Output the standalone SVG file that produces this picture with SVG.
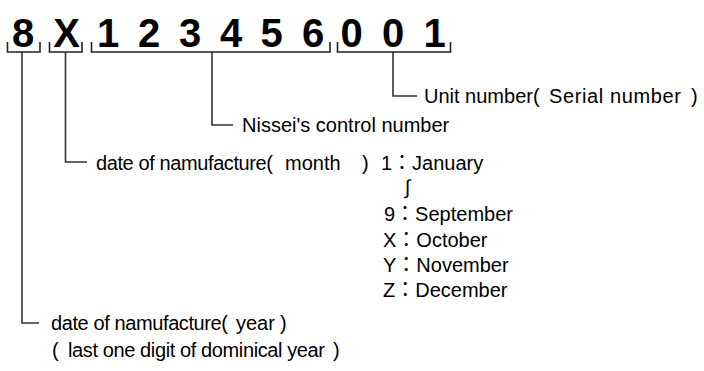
<svg xmlns="http://www.w3.org/2000/svg" width="704" height="371" viewBox="0 0 704 371">
<style>
.big{font-family:"Liberation Sans",Arial,sans-serif;font-weight:bold;font-size:40px;fill:#000;text-anchor:middle}
.lbl{font-family:"Liberation Sans",Arial,"Noto Sans CJK JP",sans-serif;font-size:20px;fill:#000}
.br{fill:none;stroke:#222;stroke-width:1.6}
.ln{fill:none;stroke:#333;stroke-width:1.6}
</style>
<rect width="704" height="371" fill="#fff"/>
<g id="code-year">
<text class="big" x="23" y="47">8</text>
<path class="br" d="M7.5,42 V52 H40 V42"/>
</g>
<g id="code-month">
<text class="big" x="66.5" y="47">X</text>
<path class="br" d="M49.5,42 V52 H82 V42"/>
</g>
<g id="code-control">
<text class="big" x="108" y="47">1</text>
<text class="big" x="149" y="47">2</text>
<text class="big" x="190" y="47">3</text>
<text class="big" x="231" y="47">4</text>
<text class="big" x="271.5" y="47">5</text>
<text class="big" x="313" y="47">6</text>
<path class="br" d="M91.5,42 V52 H330 V42"/>
</g>
<g id="code-serial">
<text class="big" x="351.5" y="47">0</text>
<text class="big" x="393" y="47">0</text>
<text class="big" x="434.5" y="47">1</text>
<path class="br" d="M337.5,42 V52 H450.5 V42"/>
</g>
<g id="connectors">
<path class="ln" d="M22,52 V323 H39"/>
<path class="ln" d="M65.5,52 V162 H87"/>
<path class="ln" d="M212,52 V125 H233"/>
<path class="ln" d="M393,52 V96 H417"/>
</g>
<g id="label-serial">
<text class="lbl" x="424" y="103">Unit number(<tspan x="549" textLength="132">Serial number</tspan><tspan x="691">)</tspan></text>
</g>
<g id="label-control">
<text class="lbl" x="242" y="132">Nissei's control number</text>
</g>
<g id="label-month">
<text class="lbl" x="96" y="170"><tspan textLength="177">date of namufacture(</tspan><tspan x="285">month</tspan><tspan x="362">)</tspan></text>
<text class="lbl" x="381" y="170">1：January</text>
<text x="407.5" y="194" font-family="Liberation Sans,sans-serif" font-size="20" text-anchor="middle">∫</text>
<text class="lbl" x="384" y="221">9：September</text>
<text class="lbl" x="383" y="247">X：October</text>
<text class="lbl" x="383" y="272">Y：November</text>
<text class="lbl" x="383" y="297">Z：December</text>
</g>
<g id="label-year">
<text class="lbl" x="51" y="330"><tspan textLength="177">date of namufacture(</tspan><tspan x="236">year</tspan><tspan x="280">)</tspan></text>
<text class="lbl" x="52" y="357">(<tspan x="68" textLength="257">last one digit of dominical year</tspan><tspan x="333">)</tspan></text>
</g>
</svg>
